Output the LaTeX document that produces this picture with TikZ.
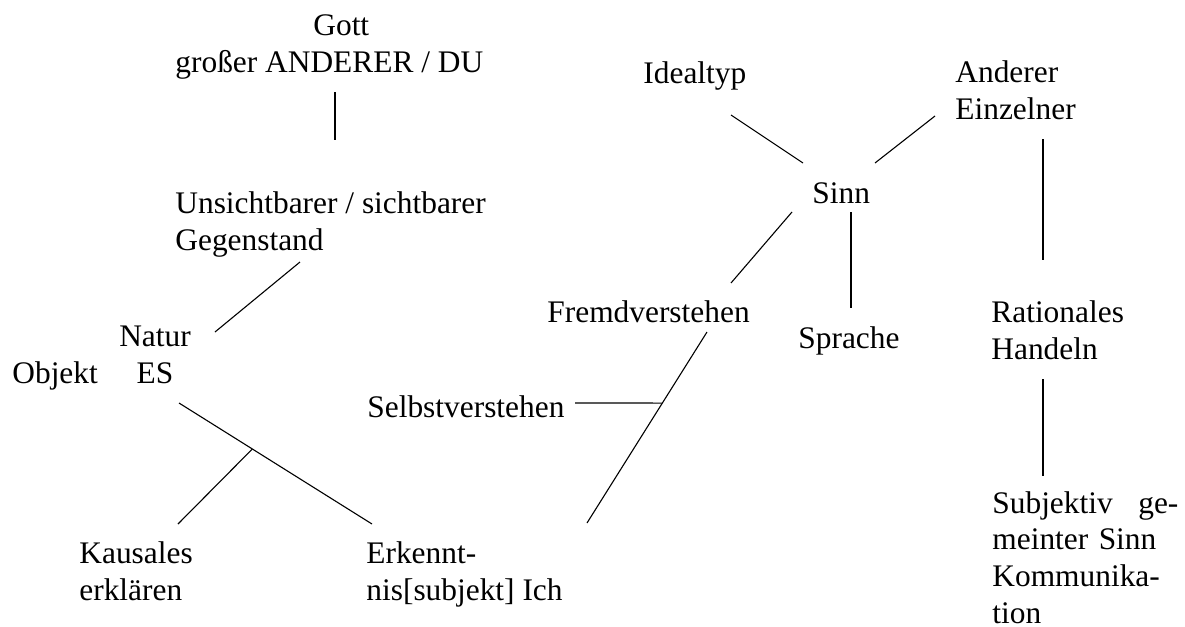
\documentclass[tikz,border=0pt]{standalone}
\usepackage{fontspec}
\setmainfont{Liberation Serif}
\usepackage{tikz}
\usetikzlibrary{positioning, calc}

\tikzset{
  lbl/.style={inner sep=0pt, anchor=base west, align=left, font=\fontsize{15.7}{18.4}\selectfont},
  link/.style={line width=0.55pt}
}

\begin{document}
\begin{tikzpicture}[x=0.5pt, y=-0.5pt]
        % the page
        \useasboundingbox (0,0) rectangle (1185,627);

        % left tree (base = last line)
        \node[lbl] (gott) at (175,72) {\hspace*{69pt}Gott\\großer ANDERER / DU};
        \node[lbl] (gegenstand) at (175,250) {Unsichtbarer / sichtbarer\\Gegenstand};
        \node[lbl, anchor=base, align=center] (natur) at (155,383) {Natur\\ES};
        \node[lbl] (objekt) at (12,383) {Objekt};
        \node[lbl] (kausal) at (79,600) {Kausales\\erklären};
        \node[lbl] (ich) at (366,600) {Erkennt-\\nis[subjekt] Ich};

        % right tree
        \node[lbl] (selbst) at (367,417) {Selbstverstehen};
        \node[lbl] (fremd) at (547,322) {Fremdverstehen};
        \node[lbl] (sinn) at (812,203) {Sinn};
        \node[lbl] (sprache) at (798,348) {Sprache};
        \node[lbl] (ideal) at (643,83) {Idealtyp};
        \node[lbl] (anderer) at (955,119) {Anderer\\Einzelner};
        \node[lbl] (rational) at (991,359) {Rationales\\Handeln};
        \node[lbl, text width=93pt] (subjektiv) at (992,513) {Subjektiv\hfill ge-\\meinter Sinn\\Kommunika-\\tion};

        % line ends
        \coordinate (gott-s) at (335,92);
        \coordinate (gegen-n) at (335,140);
        \coordinate (gegen-s) at (300,262);
        \coordinate (natur-n) at (215,332);
        \coordinate (natur-s) at (179,403);
        \coordinate (ich-n) at (372,524);
        \coordinate (kausal-n) at (178,524);
        \coordinate (k) at ($ (natur-s)!.38!(ich-n) $);
        \coordinate (fremd-s) at (707,332);
        \coordinate (ich-ne) at (587,523);
        \coordinate (s) at ($ (fremd-s)!.372!(ich-ne) $);
        \coordinate (selbst-e) at (575,403);
        \coordinate (sinn-sw) at (792,212);
        \coordinate (fremd-n) at (731,283);
        \coordinate (sinn-s) at (851,212);
        \coordinate (sprache-n) at (851,308);
        \coordinate (ideal-se) at (731,115);
        \coordinate (sinn-nw) at (803,163);
        \coordinate (anderer-sw) at (935,116);
        \coordinate (sinn-ne) at (875,163);
        \coordinate (anderer-s) at (1043,139);
        \coordinate (rational-n) at (1043,260);
        \coordinate (rational-s) at (1043,379);
        \coordinate (subjektiv-n) at (1043,476);

        % the links
        \draw[link] (gott-s) -- (gegen-n);
        \draw[link] (gegen-s) -- (natur-n);
        \draw[link] (natur-s) -- (ich-n);
        \draw[link] (k) -- (kausal-n);
        \draw[link] (fremd-s) -- (ich-ne);
        \draw[link] (selbst-e) -- (s);
        \draw[link] (sinn-sw) -- (fremd-n);
        \draw[link] (sinn-s) -- (sprache-n);
        \draw[link] (ideal-se) -- (sinn-nw);
        \draw[link] (anderer-sw) -- (sinn-ne);
        \draw[link] (anderer-s) -- (rational-n);
        \draw[link] (rational-s) -- (subjektiv-n);
    \end{tikzpicture}
\end{document}
